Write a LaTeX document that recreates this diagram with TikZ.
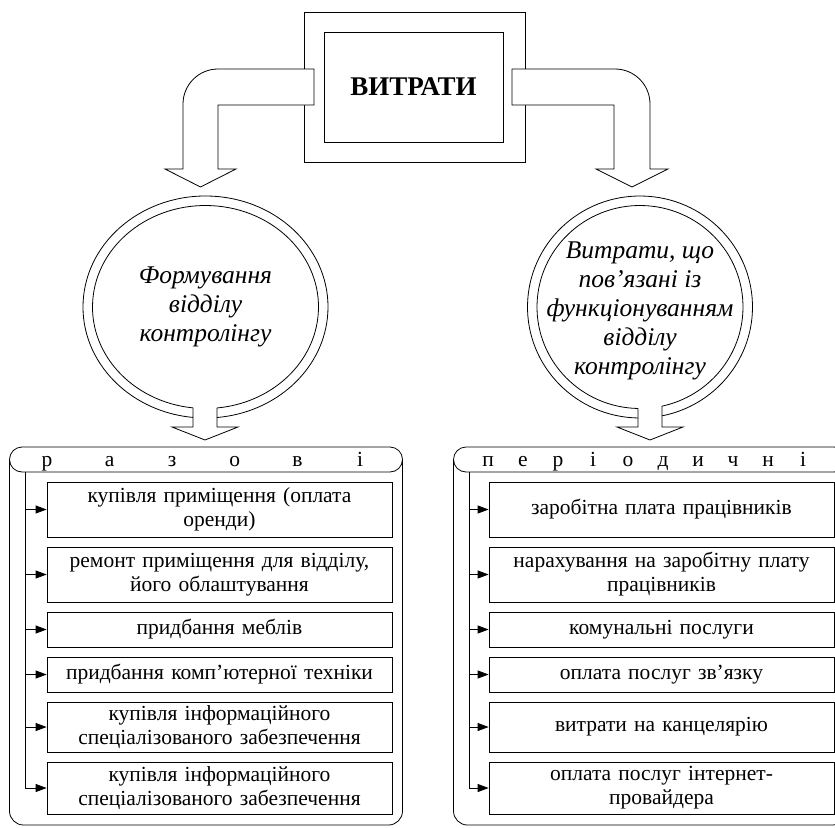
\documentclass[tikz,border=0pt]{standalone}
\usepackage{fontspec}
\setmainfont{Liberation Serif}
\usetikzlibrary{arrows.meta}

\begin{document}
\begin{tikzpicture}[x=1pt,y=-1pt,line width=0.8pt]
        \tikzstyle{every node} = [inner sep=0pt]
        \tikzstyle{item} = [draw, rectangle, minimum width=345, text width=345, align=center, font=\fontsize{21.5}{24}\selectfont]
        \tikzstyle{letter} = [anchor=base, font=\fontsize{21.5}{24}\selectfont]
        \tikzstyle{ringtext} = [align=center, font=\fontsize{25.5}{29}\selectfont\itshape]
        \tikzstyle{bararrow} = [draw, fill=white]
        \tikzstyle{tip} = [-{Triangle[length=11pt,width=8pt]}]

        \useasboundingbox (0,0) rectangle (835,827);
        \clip (0,0) rectangle (835,827);

        % top frame
        \node[draw, minimum width=221, minimum height=150] (frame) at (414.5,87) {};
        \node[draw, minimum width=179, minimum height=110, font=\fontsize{27}{30}\selectfont\bfseries] (title) at (413.5,87) {ВИТРАТИ};

        % bent arrows
        \draw[bararrow] (314,105) -- (314,69) -- (218,69) .. controls (198.7,69) and (183,84.7) .. (183,104)
            -- (183,169) -- (165,169) -- (200.5,187) -- (236,169) -- (218,169) -- (218,105) -- cycle;
        \draw[bararrow] (512,105) -- (512,69) -- (615,69) .. controls (634.3,69) and (650,84.7) .. (650,104)
            -- (650,169) -- (668,169) -- (632,187) -- (596,169) -- (614,169) -- (614,105) -- cycle;

        % rings
        \foreach \cx/\rx/\gl/\gr in {205.5/122.5/193/217, 640/112.5/638/662} {
            \draw (\gl,{307+111*sin(acos((\gl-\cx)/\rx))})
                arc[start angle={acos((\gl-\cx)/\rx)}, end angle={360+acos((\gr-\cx)/\rx)}, x radius=\rx, y radius=111];
            \draw (\gl,{307+101.5*sin(acos((\gl-\cx)/(\rx-9.5)))})
                arc[start angle={acos((\gl-\cx)/(\rx-9.5))}, end angle={360+acos((\gr-\cx)/(\rx-9.5))}, x radius=\rx-9.5, y radius=101.5];
            \draw (\gl,{307+101.5*sin(acos((\gl-\cx)/(\rx-9.5)))}) -- (\gl,427) -- ({\gl-21},427) -- ({(\gl+\gr)/2},440)
                -- ({\gr+21},427) -- (\gr,427) -- (\gr,{307+101.5*sin(acos((\gr-\cx)/(\rx-9.5)))});
        }
        \node[ringtext] (form) at (205.5,307) {Формування\\відділу\\контролінгу};
        \node[ringtext] (func) at (640,311) {Витрати, що\\пов’язані із\\функціонуванням\\відділу\\контролінгу};

        % scroll panels
        \foreach \dx in {0,444}
            \draw[rounded corners=14] ({\dx+9.5},459.5) -- ({\dx+9.5},825) -- ({\dx+402.5},825) -- ({\dx+402.5},459.5);
        \node[draw, rounded corners=12.5, minimum width=393, minimum height=25] (bar1) at (206,459.5) {};
        \node[draw, rounded corners=12.5, minimum width=393, minimum height=25] (bar2) at (650,459.5) {};
        \foreach \ch [count=\i from 0] in {р,а,з,о,в,і}
            \node[letter] (a\i) at ({47+62.6*\i},466) {\ch};
        \foreach \ch [count=\i from 0] in {п,е,р,і,о,д,и,ч,н,і}
            \node[letter] (b\i) at ({488+35*\i},466) {\ch};

        % one-off costs
        \node[item, minimum height=55] (l1) at (219.5,509.5) {купівля приміщення (оплата\\оренди)};
        \node[item, minimum height=55] (l2) at (219.5,574.5) {ремонт приміщення для відділу,\\його облаштування};
        \node[item, minimum height=35] (l3) at (219.5,629.5) {придбання меблів};
        \node[item, minimum height=35] (l4) at (219.5,674.5) {придбання комп’ютерної техніки};
        \node[item, minimum height=50] (l5) at (219.5,727) {купівля інформаційного\\спеціалізованого забезпечення};
        \node[item, minimum height=52] (l6) at (219.5,788) {купівля інформаційного\\спеціалізованого забезпечення};

        % periodic costs
        \node[item, minimum height=55] (r1) at (661.5,509.5) {заробітна плата працівників};
        \node[item, minimum height=55] (r2) at (661.5,574.5) {нарахування на заробітну плату\\працівників};
        \node[item, minimum height=35] (r3) at (661.5,629.5) {комунальні послуги};
        \node[item, minimum height=35] (r4) at (661.5,674.5) {оплата послуг зв’язку};
        \node[item, minimum height=50] (r5) at (661.5,727) {витрати на канцелярію};
        \node[item, minimum height=52] (r6) at (661.5,788) {оплата послуг інтернет-\\провайдера};

        \coordinate (lt) at (25,472);
        \coordinate (rt) at (469,472);
        \draw[tip] (lt) |- (l6.west);
        \draw[tip] (rt) |- (r6.west);
        \foreach \n in {1,...,5} {
            \draw[tip] (lt |- l\n.west) -- (l\n.west);
            \draw[tip] (rt |- r\n.west) -- (r\n.west);
        }
      \end{tikzpicture}
\end{document}
